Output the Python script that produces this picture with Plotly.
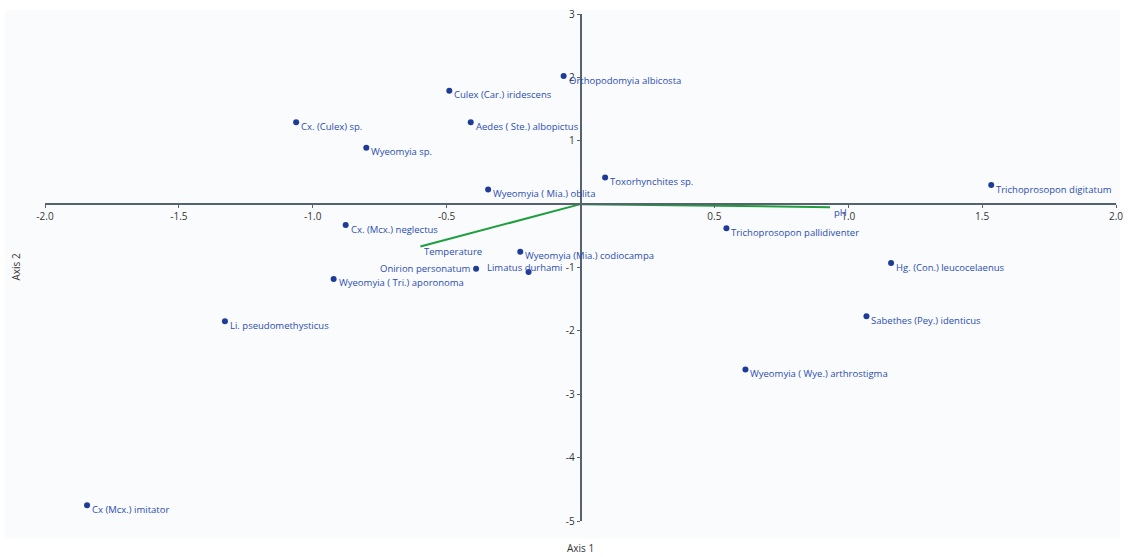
import plotly.graph_objects as go

# ---- data ----
species = [
    "Orthopodomyia albicosta", "Culex (Car.) iridescens", "Cx. (Culex) sp.",
    "Aedes ( Ste.) albopictus", "Wyeomyia sp.", "Toxorhynchites sp.",
    "Trichoprosopon digitatum", "Wyeomyia ( Mia.) oblita", "Cx. (Mcx.) neglectus",
    "Trichoprosopon pallidiventer", "Wyeomyia (Mia.) codiocampa", "Onirion personatum",
    "Limatus durhami", "Wyeomyia ( Tri.) aporonoma", "Hg. (Con.) leucocelaenus",
    "Li. pseudomethysticus", "Sabethes (Pey.) identicus", "Wyeomyia ( Wye.) arthrostigma",
    "Cx (Mcx.) imitator",
]
axis1 = [-0.063, -0.49, -1.062, -0.41, -0.80, 0.092,
         1.534, -0.345, -0.877, 0.545, -0.225, -0.39,
         -0.194, -0.922, 1.16, -1.328, 1.068, 0.616,
         -1.843]
axis2 = [2.02, 1.79, 1.29, 1.29, 0.89, 0.42,
         0.30, 0.23, -0.33, -0.38, -0.75, -1.02,
         -1.07, -1.18, -0.93, -1.85, -1.77, -2.61,
         -4.75]

variables = ["Temperature", "pH"]
var_axis1 = [-0.598, 0.932]
var_axis2 = [-0.67, -0.048]

x_ticks = [-2.0, -1.5, -1.0, -0.5, 0.5, 1.0, 1.5, 2.0]
y_ticks = [-5, -4, -3, -2, -1, 1, 2, 3]

# ---- styles ----
FONT = "Open Sans"
TXT_BLUE = "#2a4db0"
DOT_BLUE = "#1d3c98"
GREEN = "#1e9e3e"
AXIS_COL = "#56626e"
LBL_SIZE = 9.5

# label offsets (pixels) for a few crowded labels: (xanchor, xshift, yshift)
label_offsets = {
    "Onirion personatum": ("right", -4, 0),
    "Limatus durhami": ("left", -44, 4),
}

fig = go.Figure()

# panel background
fig.add_shape(type="rect", xref="paper", yref="paper",
              x0=-0.037, x1=1.004, y0=-0.035, y1=1.008,
              fillcolor="#fafbfd", line=dict(width=0), layer="below")

# variable vectors
for name, vx, vy in zip(variables, var_axis1, var_axis2):
    fig.add_trace(go.Scatter(x=[0, vx], y=[0, vy], mode="lines",
                             line=dict(color=GREEN, width=2),
                             hoverinfo="skip", showlegend=False, cliponaxis=False))
    fig.add_annotation(x=vx, y=vy, text=name, showarrow=False,
                       xanchor="left", yanchor="middle", xshift=2, yshift=-5,
                       font=dict(family=FONT, size=LBL_SIZE, color=TXT_BLUE))

# species points
fig.add_trace(go.Scatter(x=axis1, y=axis2, mode="markers",
                         marker=dict(color=DOT_BLUE, size=6),
                         text=species, hoverinfo="text",
                         showlegend=False, cliponaxis=False))

for name, sx, sy in zip(species, axis1, axis2):
    xa, xs, ys = label_offsets.get(name, ("left", 3, -4))
    fig.add_annotation(x=sx, y=sy, text=name, showarrow=False,
                       xanchor=xa, yanchor="middle", xshift=xs, yshift=ys,
                       font=dict(family=FONT, size=LBL_SIZE, color=TXT_BLUE))

# axis titles
fig.add_annotation(xref="paper", yref="paper", x=0.5, y=-0.053, text="Axis 1",
                   showarrow=False, yanchor="middle",
                   font=dict(family=FONT, size=10, color="#333333"))
fig.add_annotation(xref="paper", yref="paper", x=-0.028, y=0.5, text="Axis 2",
                   showarrow=False, textangle=-90, xanchor="center",
                   font=dict(family=FONT, size=10, color="#333333"))

fig.update_layout(
    width=1135, height=557,
    margin=dict(l=45, r=19, t=14, b=36, autoexpand=False),
    paper_bgcolor="white", plot_bgcolor="rgba(0,0,0,0)",
    xaxis=dict(range=[-2, 2], tickvals=x_ticks,
               ticktext=[f"{v:.1f}" for v in x_ticks],
               showgrid=False, zeroline=False, showline=True,
               linecolor=AXIS_COL, linewidth=1.5,
               ticks="outside", ticklen=3, tickcolor=AXIS_COL,
               anchor="free", position=5 / 8, automargin=False,
               tickfont=dict(family=FONT, size=10, color="#333333")),
    yaxis=dict(range=[-5, 3], tickvals=y_ticks,
               ticktext=[str(v) for v in y_ticks],
               showgrid=False, zeroline=False, showline=True,
               linecolor=AXIS_COL, linewidth=1.5,
               ticks="outside", ticklen=3, tickcolor=AXIS_COL,
               anchor="free", position=0.5, automargin=False,
               tickfont=dict(family=FONT, size=10, color="#333333")),
)

fig.write_html("out.html", config={"displayModeBar": False},
               post_script="document.body.style.margin='0';document.body.style.padding='0';document.body.style.overflow='hidden';")
